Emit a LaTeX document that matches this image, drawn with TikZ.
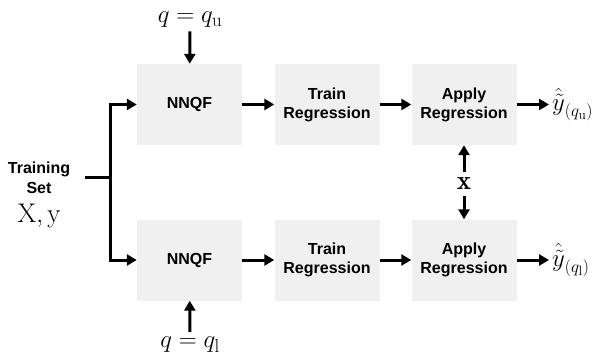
\documentclass[tikz,border=0pt]{standalone}
\usepackage{fontspec}
\usetikzlibrary{arrows.meta}
\newfontfamily\blocksans{Liberation Sans}
\definecolor{boxgray}{RGB}{240,240,240}

\begin{document}
\begin{tikzpicture}[x=1pt, y=-1pt,
    every node/.style={font=\fontsize{27}{29}\selectfont},
    blk/.style={fill=boxgray, minimum width=105pt, minimum height=81pt, inner sep=0pt,
      align=center, font=\blocksans\bfseries\fontsize{16}{19}\selectfont},
    flow/.style={-{Triangle[length=10pt,width=11pt]}, line width=3pt}]
  \useasboundingbox (0,0) rectangle (599,361);

  \node[blk] (nnqfU)  at (189.5,104.5) {NNQF};
  \node[blk] (trainU) at (327,104.5)   {Train\\Regression};
  \node[blk] (applyU) at (464,104.5)   {Apply\\Regression};
  \node[blk] (nnqfL)  at (189.5,260)   {NNQF};
  \node[blk] (trainL) at (327,260)     {Train\\Regression};
  \node[blk] (applyL) at (464,260)     {Apply\\Regression};

  \node[font=\blocksans\bfseries\fontsize{16}{20}\selectfont, align=center] (tset) at (39,178) {Training\\Set};
  \node (data) at (39,216) {$\mathrm{X},\mathrm{y}$};
  \node (qU) at (190,20) {$q=q_\mathrm{u}$};
  \node[inner sep=5pt] (qL) at (190,345) {$q=q_\mathrm{l}$};
  \node[inner sep=6pt] (xin) at (464,184) {$\mathbf{x}$};
  \node[anchor=west, inner sep=3pt] (outU) at (549,104.5) {$\hat{\tilde{y}}_{(q_\mathrm{u})}$};
  \node[anchor=west, inner sep=3pt] (outL) at (549,260)   {$\hat{\tilde{y}}_{(q_\mathrm{l})}$};

  \coordinate (tsEnd) at (85,177);
  \coordinate (split) at (110,177);

  \draw[line width=3pt] (tsEnd) -- (split);
  \draw[flow] (split) |- (nnqfU);
  \draw[flow] (split) |- (nnqfL);
  \draw[flow] (nnqfU) -- (trainU);
  \draw[flow] (trainU) -- (applyU);
  \draw[flow] (applyU) -- (outU);
  \draw[flow] (nnqfL) -- (trainL);
  \draw[flow] (trainL) -- (applyL);
  \draw[flow] (applyL) -- (outL);
  \draw[flow] (qU) -- (nnqfU);
  \draw[flow] (qL) -- (nnqfL);
  \draw[flow] (xin) -- (applyU);
  \draw[flow] (xin) -- (applyL);
\end{tikzpicture}
\end{document}
